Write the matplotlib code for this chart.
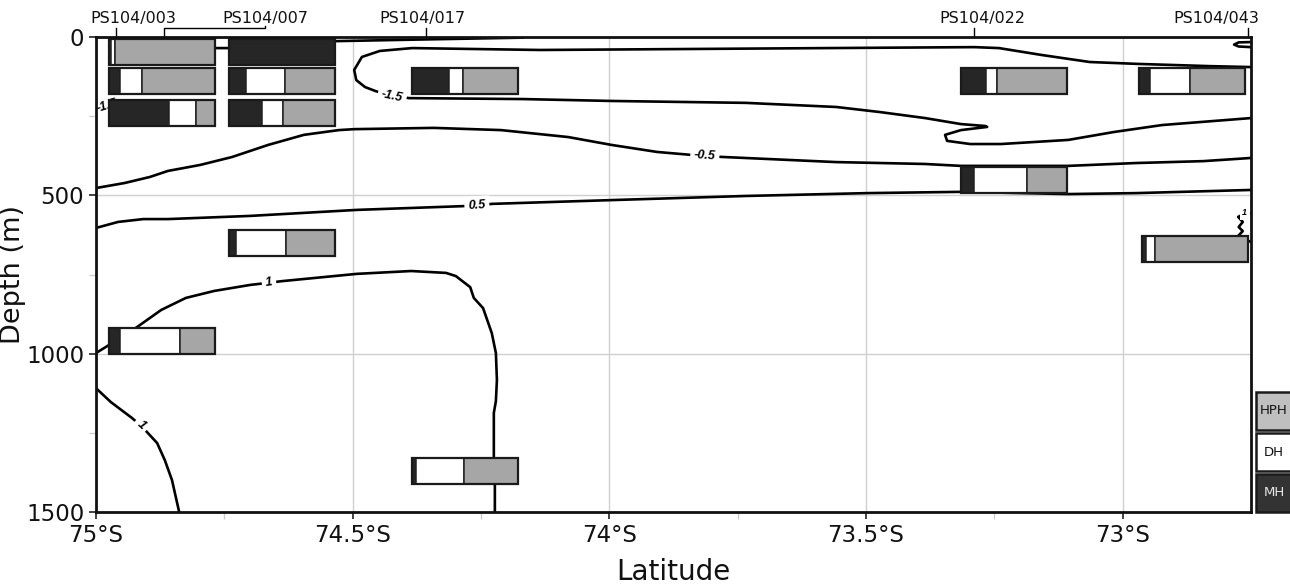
import matplotlib
matplotlib.use('Agg')
import matplotlib.pyplot as plt
from matplotlib.patches import Rectangle
import matplotlib.transforms as mtrans

# ---------------- data ----------------
stations = ['PS104/003', 'PS104/007', 'PS104/017', 'PS104/022', 'PS104/043']
station_lat = [74.961, 74.868, 74.357, 73.289, 72.756]        # tick positions (deg S)
station_label_lat = [74.928, 74.671, 74.365, 73.274, 72.818]  # label positions (deg S)

# stacked bars (MH / DH / HPH percentages) placed at (lat of left edge, depth of centre)
box_lat = [74.975, 74.975, 74.975, 74.741, 74.741, 74.741, 74.384,
           73.315, 72.968, 73.315, 72.962, 74.741, 74.975, 74.384]
box_depth = [47, 139, 240, 47, 139, 240, 139, 139, 139, 451, 669, 650, 961, 1371]
box_mh = [2, 11, 57, 100, 16, 31, 35, 24, 10, 12, 4, 7, 11, 4]
box_dh = [4, 20, 25, 0, 37, 20, 13, 10, 38, 50, 8, 47, 56, 45]
box_hph = [94, 69, 18, 0, 47, 49, 52, 66, 52, 38, 88, 46, 33, 51]

# contour lines (lat deg S, depth m)
c_surf_lat = [74.944, 74.895, 74.770, 74.741, 74.532, 74.369, 74.168]
c_surf_depth = [2, 22, 35, 35, 13, 8, 2]

c_m15_lat = [72.750, 72.830, 72.970, 73.064, 73.157, 73.241, 73.289, 73.576, 73.855,
             74.135, 74.384, 74.447, 74.482, 74.497, 74.493, 74.476, 74.455, 74.423,
             74.390, 74.168, 73.995, 73.734, 73.558, 73.473, 73.385, 73.315, 73.268,
             73.264, 73.315, 73.346, 73.342, 73.297, 73.237, 73.106, 73.017, 72.923,
             72.750]
c_m15_depth = [95, 92, 85, 79, 57, 35, 32, 35, 38,
               41, 35, 44, 63, 104, 136, 158, 171, 186,
               193, 196, 202, 208, 221, 237, 256, 275, 281,
               284, 294, 309, 328, 338, 338, 325, 300, 278,
               256]

c_m15_left_lat = [75.0, 74.969]
c_m15_left_depth = [243, 227]

c_loop_lat = [72.750, 72.774, 72.783, 72.774, 72.750]
c_loop_depth = [16, 17, 24, 30, 32]

c_m05_lat = [75.000, 74.944, 74.895, 74.860, 74.797, 74.735, 74.665, 74.595, 74.527,
             74.497, 74.342, 74.211, 74.080, 73.995, 73.907, 73.814, 73.777, 73.558,
             73.385, 73.315, 73.106, 72.974, 72.843, 72.750]
c_m05_depth = [477, 461, 442, 423, 404, 379, 341, 309, 294,
               291, 287, 294, 316, 341, 363, 376, 379, 395,
               401, 407, 407, 398, 392, 382]

c_p05_lat = [75.000, 74.957, 74.908, 74.860, 74.700, 74.492, 74.283, 74.258, 74.229,
             73.995, 73.734, 73.498, 73.315, 73.106, 72.974, 72.750]
c_p05_depth = [603, 584, 575, 575, 565, 546, 534, 533, 527,
               515, 502, 493, 489, 496, 493, 483]

c_p1_lat = [75.000, 74.975, 74.920, 74.873, 74.825, 74.770, 74.700, 74.663, 74.638,
            74.492, 74.386, 74.318, 74.299, 74.271, 74.264, 74.246, 74.229, 74.221,
            74.219, 74.221, 74.225, 74.225, 74.223, 74.223]
c_p1_depth = [998, 973, 916, 862, 824, 802, 783, 776, 771,
              748, 739, 745, 755, 790, 824, 856, 935, 998,
              1083, 1150, 1187, 1326, 1415, 1500]

c_p1b_lat = [74.998, 74.971, 74.930, 74.912, 74.901, 74.881, 74.866, 74.852, 74.838]
c_p1b_depth = [1112, 1153, 1203, 1228, 1247, 1282, 1336, 1399, 1500]

c_p1c_lat = [72.750, 72.764, 72.775, 72.766, 72.774, 72.766, 72.775, 72.760, 72.750]
c_p1c_depth = [557, 559, 568, 584, 600, 613, 628, 641, 647]

clabel_text = ['-1.5', '-1.5', '-0.5', '0.5', '1', '1', '1']
clabel_lat = [74.423, 74.979, 73.814, 74.258, 74.663, 74.912, 72.762]
clabel_depth = [186, 218, 376, 533, 776, 1226, 555]
clabel_rot = [-12, 17, -4, 3, 7, -43, 0]

xticks = [75, 74.5, 74, 73.5, 73]
xticklabels = ['75°S', '74.5°S', '74°S', '73.5°S', '73°S']
yticks = [0, 500, 1000, 1500]

legend_labels = ['HPH', 'DH', 'MH']

# ---------------- style ----------------
W, H = 1290, 587
C_MH = '#262626'
C_DH = '#ffffff'
C_HPH = '#a6a6a6'
BOX_W = 0.2065
BOX_H = 82

plt.rcParams['font.family'] = ['DejaVu Sans']
fig = plt.figure(figsize=(W / 100, H / 100), dpi=100)
ax = fig.add_axes([96 / W, 1 - 512 / H, (1251 - 96) / W, (512 - 37) / H])

ax.set_xlim(75, 72.75)
ax.set_ylim(1500, 0)
ax.set_xticks(xticks)
ax.set_xticklabels(xticklabels)
ax.set_xticks([74.75, 74.25, 73.75, 73.25], minor=True)
ax.set_yticks(yticks)
ax.set_yticks([250, 750, 1250], minor=True)
ax.tick_params(which='major', length=5, width=1.2, labelsize=16.5, color='#222222',
               labelcolor='#111111')
ax.tick_params(which='minor', length=5, width=1, color='#cccccc')
ax.grid(True, which='major', color='#d0d0d0', lw=1)
ax.set_axisbelow(True)
for s in ax.spines.values():
    s.set_linewidth(2)
    s.set_color('#111111')
    s.set_zorder(10)
ax.set_xlabel('Latitude', fontsize=20, labelpad=8, color='#111111')
ax.set_ylabel('Depth (m)', fontsize=19.5, color='#111111')
ax.yaxis.set_label_coords((26 - 96) / (1251 - 96), 0.5)

# contours
line_kw = dict(color='black', lw=1.9, zorder=3, solid_capstyle='round')
for la, de in [(c_surf_lat, c_surf_depth), (c_m15_lat, c_m15_depth),
               (c_m15_left_lat, c_m15_left_depth), (c_loop_lat, c_loop_depth),
               (c_m05_lat, c_m05_depth), (c_p05_lat, c_p05_depth),
               (c_p1_lat, c_p1_depth), (c_p1b_lat, c_p1b_depth),
               (c_p1c_lat, c_p1c_depth)]:
    ax.plot(la, de, **line_kw)

for i, (t, la, de, r) in enumerate(zip(clabel_text, clabel_lat, clabel_depth, clabel_rot)):
    fs = 6.5 if i == 6 else 9
    ax.text(la, de, t, fontsize=fs, fontweight='bold', fontstyle='italic',
            family=['Liberation Sans', 'DejaVu Sans'], rotation=r,
            rotation_mode='anchor', ha='center', va='center', zorder=4,
            bbox=dict(boxstyle='square,pad=0.3', fc='white', ec='none'))

# stacked boxes
for la, de, mh, dh, hph in zip(box_lat, box_depth, box_mh, box_dh, box_hph):
    total = mh + dh + hph
    x = la
    y0 = de - BOX_H / 2
    for frac, col in [(mh, C_MH), (dh, C_DH), (hph, C_HPH)]:
        if frac <= 0:
            continue
        w = BOX_W * frac / total
        ax.add_patch(Rectangle((x, y0), -w, BOX_H, facecolor=col,
                               edgecolor='#222222', lw=1.1, zorder=5))
        x -= w
    ax.add_patch(Rectangle((la, y0), -BOX_W, BOX_H, facecolor='none',
                           edgecolor='#1a1a1a', lw=1.6, zorder=6))

# station labels and ticks on top
trans = mtrans.blended_transform_factory(ax.transData, ax.transAxes)
ypx = lambda py: 1 + (37 - py) / (512 - 37)
for i, (name, sl, ll) in enumerate(zip(stations, station_lat, station_label_lat)):
    if name == 'PS104/007':
        ax.plot([sl, sl, ll, ll], [ypx(37), ypx(28), ypx(28), ypx(25.5)],
                color='black', lw=1, transform=trans, clip_on=False)
    else:
        ax.plot([sl, sl], [ypx(37), ypx(28)], color='black', lw=1,
                transform=trans, clip_on=False)
    ax.text(ll, ypx(26), name, transform=trans, ha='center', va='bottom',
            fontsize=11.5, color='#111111')

# legend boxes at right edge
leg_cols = ['#bfbfbf', '#ffffff', '#333333']
leg_txt = ['#111111', '#111111', '#e6e6e6']
leg_top = [392, 433, 474]
for lab, fc, tc, top in zip(legend_labels, leg_cols, leg_txt, leg_top):
    fig.add_artist(Rectangle((1256 / W, 1 - (top + 38) / H), 45 / W, 38 / H,
                             transform=fig.transFigure, facecolor=fc,
                             edgecolor='#1a1a1a', lw=1.8))
    fig.text(1274 / W, 1 - (top + 19) / H, lab, ha='center', va='center',
             fontsize=9.5, color=tc)

fig.savefig('out.png', dpi=100)
